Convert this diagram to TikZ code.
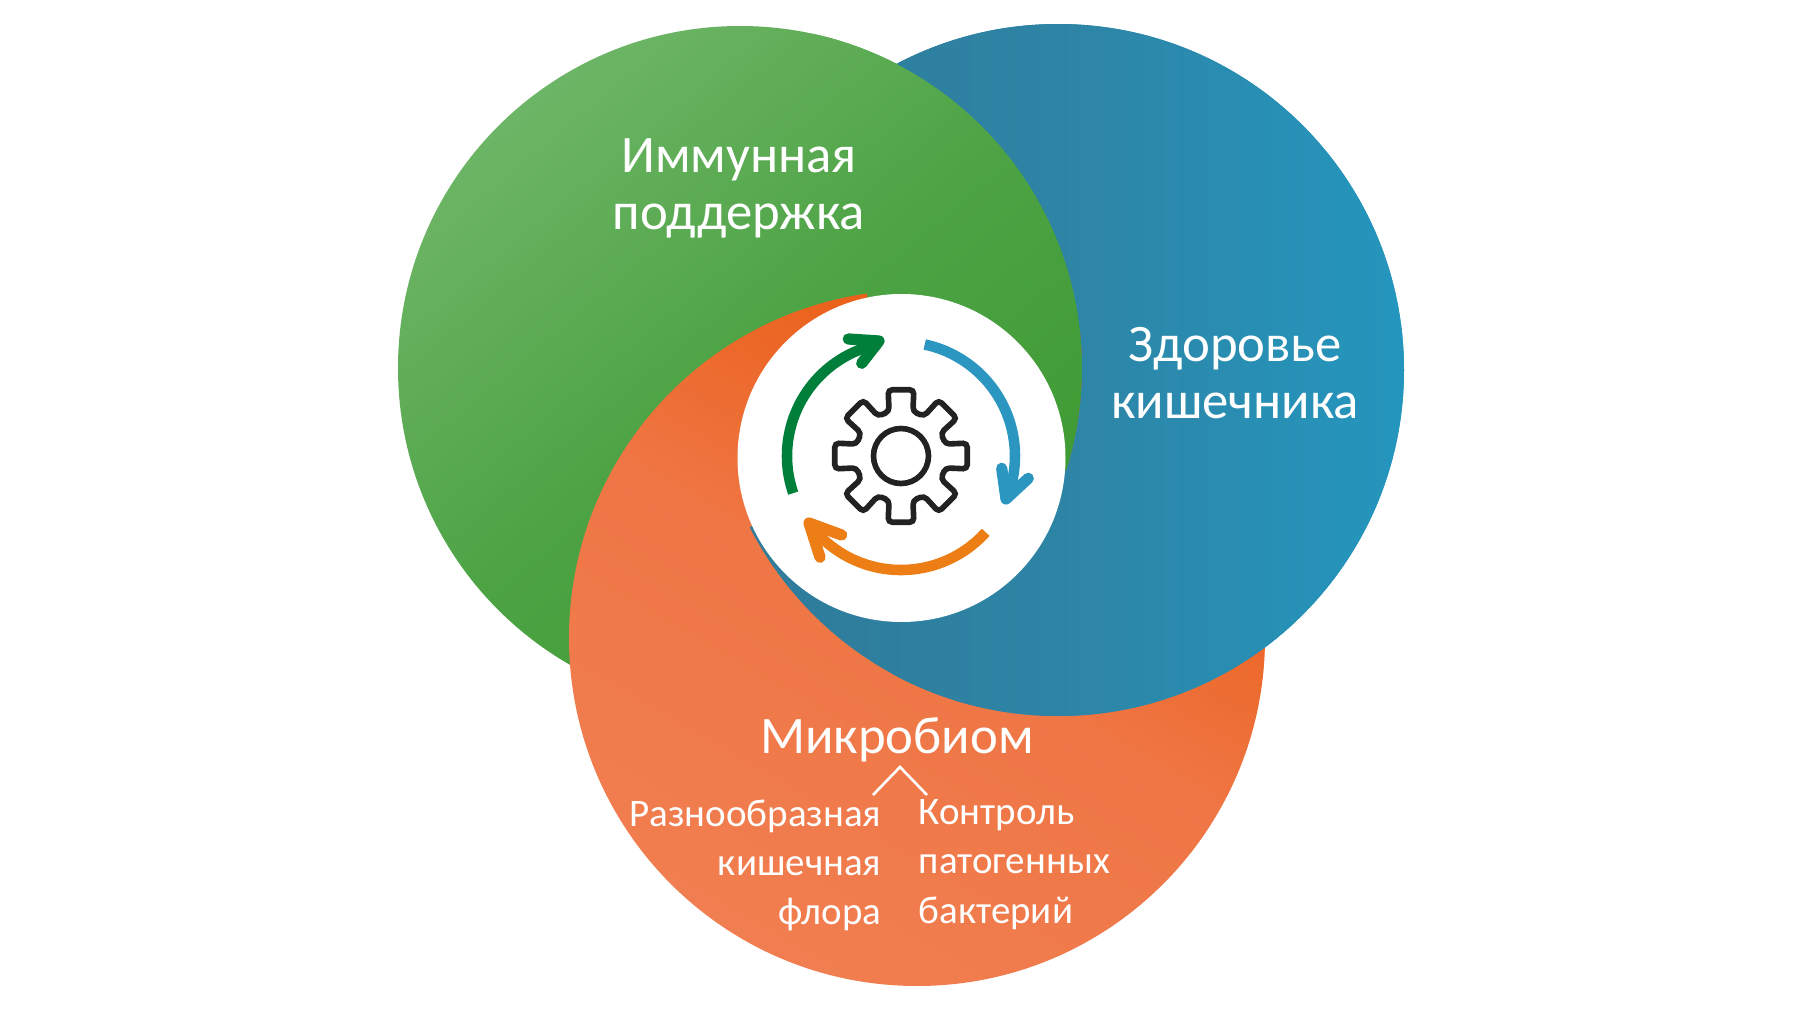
\documentclass[tikz,border=0pt]{standalone}
\usepackage{fontspec}
\setmainfont{Carlito}
\usepackage{tikz}
\definecolor{greenlight}{HTML}{6DB566}
\definecolor{greenmid}{HTML}{4DA344}
\definecolor{greendark}{HTML}{3D9A32}
\definecolor{bluedark}{HTML}{2F7A99}
\definecolor{bluemid}{HTML}{2E84A5}
\definecolor{bluelight}{HTML}{2496BE}
\definecolor{orangelight}{HTML}{F17E50}
\definecolor{orangemid}{HTML}{EF7645}
\definecolor{orangedark}{HTML}{E95A0C}
\definecolor{arrowgreen}{HTML}{007F3B}
\definecolor{arrowblue}{HTML}{2B96BF}
\definecolor{arroworange}{HTML}{EC7E15}
\definecolor{gearblack}{HTML}{222222}
\tikzset{
  greenfill/.style={top color=greenlight, bottom color=greendark, middle color=greenmid, shading angle=40},
  bluefill/.style={left color=bluedark, right color=bluelight, middle color=bluemid},
  orangefill/.style={top color=orangedark, bottom color=orangelight, middle color=orangemid, shading angle=-30},
  bigtext/.style={text=white, inner sep=0pt, font=\fontsize{15}{16.2}\selectfont, align=center},
  smalltext/.style={text=white, inner sep=0pt, font=\fontsize{11.1}{14}\selectfont},
  cyclearrow/.style={line width=3pt, line cap=round, line join=round},
  cyclehead/.style={cyclearrow, line width=3.2pt}
}
\def\greencirc{(7.40,6.47) circle (3.42)}
\def\bluecirc{(10.58,6.45) circle (3.46)}
\def\orangecirc{(9.17,3.77) circle (3.48)}
\begin{document}
\begin{tikzpicture}
                \useasboundingbox (0,0) rectangle (18,10.15);
                \fill[white] (0,0) rectangle (18,10.15);

                % Circles
                \shade[bluefill] \bluecirc;
                \shade[greenfill] \greencirc;
                \shade[orangefill] \orangecirc;

                % Swirl overlaps
                \begin{scope}
                    \clip (9.015,5.57) -- (8.05,10.15) -- (18,10.15) -- (18,4.9) -- cycle;
                    \shade[greenfill] \greencirc;
                \end{scope}
                \begin{scope}[even odd rule]
                    \clip (0,0) rectangle (18,10.15) \greencirc;
                    \shade[bluefill] \bluecirc;
                \end{scope}
                \begin{scope}
                    \clip (9.015,5.57) -- (4.0,3.28) -- (4.0,0) -- (18,0) -- (18,4.9) -- cycle;
                    \shade[bluefill] \bluecirc;
                \end{scope}

                % Middle
                \fill[white] (9.015,5.57) circle (1.64);

                % Cycle arrows
                \draw[cyclearrow, arrowgreen, line cap=butt] (9.01,5.59) ++(199:1.14) arc[start angle=199, end angle=101, radius=1.14];
                \draw[cyclehead, arrowgreen] (8.483,6.76) -- (8.79,6.74) -- (8.617,6.517);
                \draw[cyclearrow, arrowblue, line cap=butt] (9.01,5.59) ++(78:1.14) arc[start angle=78, end angle=-22, radius=1.14];
                \draw[cyclehead, arrowblue] (10.017,5.467) -- (10.06,5.16) -- (10.283,5.367);
                \draw[cyclearrow, arroworange, line cap=butt] (9.01,5.59) ++(-42:1.14) arc[start angle=-42, end angle=-144, radius=1.14];
                \draw[cyclehead, arroworange] (8.417,4.80) -- (8.09,4.92) -- (8.2,4.577);

                % Gear
                \begin{scope}[shift={(9.01,5.59)}]
                    \draw[gearblack, line width=1.6pt, rounded corners=1.2pt] (-15:0.46) -- (-11:0.675) -- (11:0.675) -- (15:0.46)
                        \foreach \a in {45,90,...,315} {
                            -- (\a-15:0.46) -- (\a-11:0.675) -- (\a+11:0.675) -- (\a+15:0.46)
                        } -- cycle;
                    \draw[gearblack, line width=1.6pt] (0,0) circle (0.275);
                \end{scope}

                % Labels
                \node[bigtext] (immune) at (7.39,8.27) {Иммунная\\поддержка};
                \node[bigtext] (gut) at (12.35,6.42) {Здоровье\\кишечника};
                \node[bigtext] (microbiome) at (8.97,2.75) {Микробиом};
                \node[smalltext, align=right, anchor=north east] (flora) at (8.82,2.16) {Разнообразная\\кишечная\\флора};
                \node[smalltext, align=left, anchor=north west] (control) at (9.18,2.16) {Контроль\\патогенных\\бактерий};

                % Branch
                \coordinate (branchtop) at (9.00,2.48);
                \coordinate (branchleft) at (8.73,2.20);
                \coordinate (branchright) at (9.27,2.20);
                \draw[white, line width=0.75pt] (branchleft) -- (branchtop) -- (branchright);
\end{tikzpicture}
\end{document}
